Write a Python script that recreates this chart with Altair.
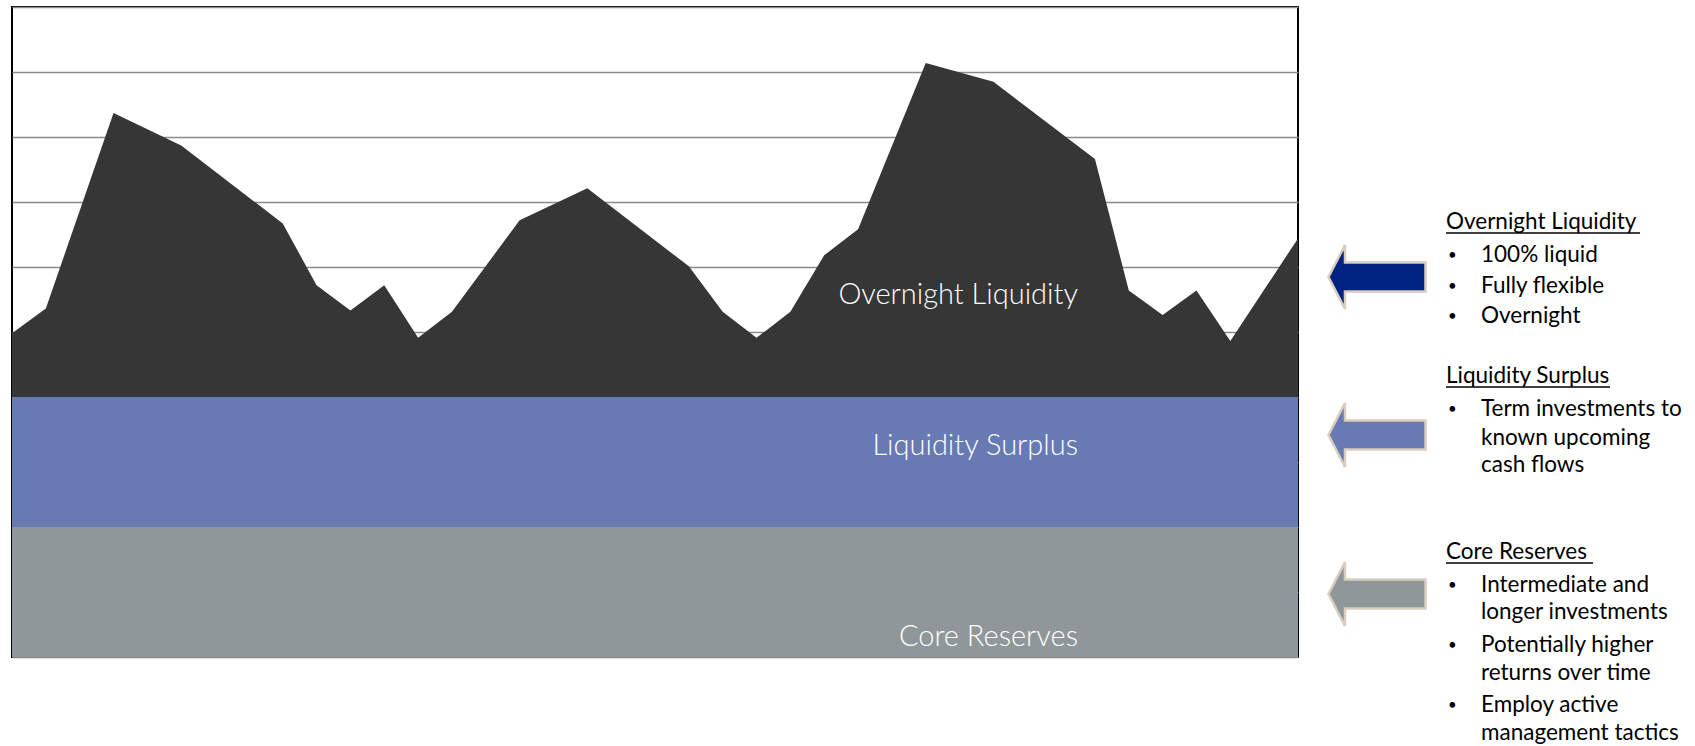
import altair as alt
import pandas as pd

# Periods where the overnight balance turns, and the overnight amount sitting
# on top of the two fixed tiers at each of those periods.
period = [0, 1, 3, 5, 8, 9, 10, 11, 12, 13, 15, 17, 20, 21, 22, 23, 24, 25,
          27, 29, 32, 33, 34, 35, 36, 38]
overnight = [0.98, 1.36, 4.37, 3.87, 2.67, 1.72, 1.33, 1.72, 0.91, 1.31, 2.72,
             3.21, 2.01, 1.31, 0.91, 1.31, 2.18, 2.58, 5.14, 4.85, 3.66, 1.64,
             1.26, 1.64, 0.86, 2.44]
CORE_RESERVES = 2.0
LIQUIDITY_SURPLUS = 2.0

tier_names = ["Overnight Liquidity", "Liquidity Surplus", "Core Reserves"]
tier_colors = ["#363636", "#677AB2", "#8F979A"]
arrow_colors = ["#00237F", "#677AB2", "#8F979A"]
tier_bullets = [
    [["100% liquid"], ["Fully flexible"], ["Overnight"]],
    [["Term investments to", "known upcoming", "cash flows"]],
    [["Intermediate and", "longer investments"],
     ["Potentially higher", "returns over time"],
     ["Employ active", "management tactics"]],
]

FONT = "Lato"
PLOT_LEFT, PLOT_TOP = 12, 7
PLOT_W, PLOT_H = 1286, 650

df = pd.DataFrame({"period": period, "overnight": overnight})
df["base"] = 0.0
df["core_top"] = CORE_RESERVES
df["surplus_top"] = CORE_RESERVES + LIQUIDITY_SURPLUS
df["total"] = df["surplus_top"] + df["overnight"]

x_enc = alt.X("period:Q", scale=alt.Scale(domain=[0, 38], nice=False, zero=False), axis=None)
y_scale = alt.Scale(domain=[0, 10], nice=False)
y_axis = alt.Axis(values=list(range(11)), grid=True, gridColor="#8a8a8a", gridWidth=1.5,
                  labels=False, ticks=False, domain=False, title=None)

base = alt.Chart(df)


def band(lower, upper, color):
    return base.mark_area(color=color, opacity=1, interpolate="linear").encode(
        x=x_enc,
        y=alt.Y(f"{lower}:Q", scale=y_scale, axis=y_axis),
        y2=f"{upper}:Q",
    )


layers = [
    band("surplus_top", "total", tier_colors[0]),
    band("core_top", "surplus_top", tier_colors[1]),
    band("base", "core_top", tier_colors[2]),
]


def text_at(txt, x, y, size, color="black", align="left", weight="normal"):
    return alt.Chart(pd.DataFrame({"label": [txt]})).mark_text(
        align=align, baseline="alphabetic", font=FONT, fontSize=size,
        fontWeight=weight, color=color,
    ).encode(x=alt.value(x - PLOT_LEFT), y=alt.value(y - PLOT_TOP), text="label:N")


def rule_at(x0, x1, y, color="black", width=1.3):
    return alt.Chart(pd.DataFrame({"k": [0]})).mark_rule(color=color, strokeWidth=width).encode(
        x=alt.value(x0 - PLOT_LEFT), x2=alt.value(x1 - PLOT_LEFT), y=alt.value(y - PLOT_TOP)
    )


# tier names inside the chart, right-aligned
for name, yb in zip(tier_names, [304, 455, 646]):
    layers.append(text_at(name, 1078, yb, 29, color="white", align="right", weight=300))

# left-pointing block arrow, unit coordinates scaled by the symbol size
ARROW = "M -1 0 L -0.66 -0.66 L -0.66 -0.3 L 1 -0.3 L 1 0.3 L -0.66 0.3 L -0.66 0.66 Z"
for color, yc in zip(arrow_colors, [277, 435, 594]):
    layers.append(
        alt.Chart(pd.DataFrame({"k": [0]})).mark_point(
            shape=ARROW, filled=True, fill=color, stroke="#d9cdbf", strokeWidth=2.5,
            size=97 * 97, opacity=1, fillOpacity=1, strokeOpacity=1,
        ).encode(x=alt.value(1377 - PLOT_LEFT), y=alt.value(yc - PLOT_TOP))
    )

# side notes: underlined heading followed by bulleted items
TEXT_SIZE = 22.5
heading_rows = [229, 383, 559]
underline_w = [194, 164, 147]
item_rows = [
    [[262], [293], [323]],
    [[416, 445, 472]],
    [[592, 619], [652, 680], [712, 740]],
]
for name, hy, uw, bullets, rows in zip(tier_names, heading_rows, underline_w, tier_bullets, item_rows):
    layers.append(text_at(name, 1446, hy, TEXT_SIZE))
    layers.append(rule_at(1446, 1446 + uw, hy + 4))
    for lines, ys in zip(bullets, rows):
        layers.append(text_at("•", 1448, ys[0] - 2, 15))
        for line, yy in zip(lines, ys):
            layers.append(text_at(line, 1481, yy, TEXT_SIZE))

chart = alt.layer(*layers).properties(
    width=PLOT_W,
    height=PLOT_H,
    autosize=alt.AutoSizeParams(type="none"),
    padding={"left": PLOT_LEFT, "top": PLOT_TOP, "right": 1695 - PLOT_LEFT - PLOT_W,
             "bottom": 746 - PLOT_TOP - PLOT_H},
    background="white",
).configure_view(stroke="#000000", strokeWidth=2)

chart.save("out.html", embed_options={"renderer": "svg", "actions": False})
